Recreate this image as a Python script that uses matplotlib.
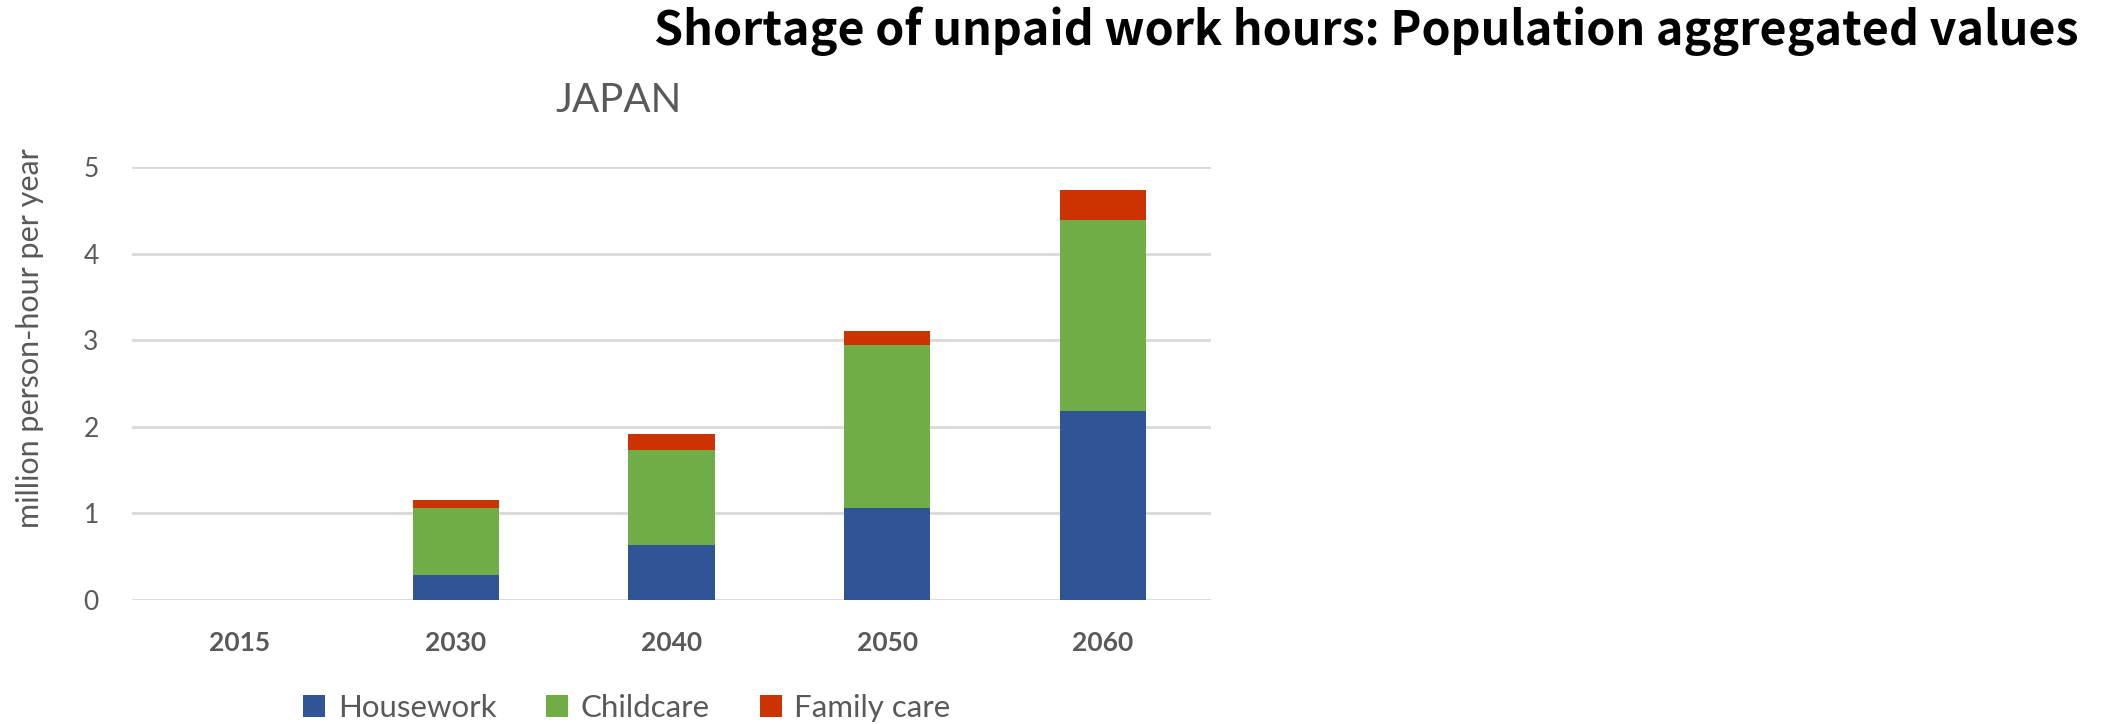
import matplotlib
matplotlib.use("Agg")
import matplotlib.pyplot as plt
import numpy as np

years = ["2015", "2030", "2040", "2050", "2060"]
housework = [0.0, 0.29, 0.64, 1.06, 2.18]
childcare = [0.0, 0.77, 1.09, 1.88, 2.21]
family_care = [0.0, 0.09, 0.19, 0.17, 0.35]

colors = {"Housework": "#2F5597", "Childcare": "#70AD47", "Family care": "#CC3300"}
grey = "#595959"

plt.rcParams["font.family"] = ["Lato", "DejaVu Sans"]

fig = plt.figure(figsize=(21.06, 7.24), dpi=100)
ax = fig.add_axes([132 / 2106, 1 - 600 / 724, (1211 - 132) / 2106, (600 - 167) / 724])

x = np.arange(len(years))
w = 0.4
b1 = ax.bar(x, housework, w, color=colors["Housework"], label="Housework", zorder=3)
bottom = np.array(housework)
b2 = ax.bar(x, childcare, w, bottom=bottom, color=colors["Childcare"], label="Childcare", zorder=3)
bottom = bottom + np.array(childcare)
b3 = ax.bar(x, family_care, w, bottom=bottom, color=colors["Family care"], label="Family care", zorder=3)

ax.set_xlim(-0.5, len(years) - 0.5)
ax.set_ylim(0, 5)
ax.set_yticks(range(6))
ax.yaxis.grid(True, color="#D9D9D9", linewidth=2)
ax.set_axisbelow(True)
for s in ax.spines.values():
    s.set_visible(False)
ax.tick_params(length=0)
ax.tick_params(axis="y", labelsize=19, labelcolor=grey, pad=24)
ax.tick_params(axis="x", labelsize=19, labelcolor=grey, pad=22)
ax.set_xticks(x)
ax.set_xticklabels(years, fontweight="bold")

fig.text(30 / 2106, 1 - 338 / 724, "million person-hour per year", rotation=90,
         ha="center", va="center", fontsize=22, color=grey)
fig.text(619 / 2106, 1 - 101 / 724, "JAPAN", ha="center", va="center",
         fontsize=29, color=grey)
fig.text(2079 / 2106, 1 - 31 / 724, "Shortage of unpaid work hours: Population aggregated values",
         ha="right", va="center", fontsize=33.6, fontweight="bold",
         family=["Noto Sans CJK JP", "DejaVu Sans"], color="black")

fig.legend(handles=[b1, b2, b3], loc="center", bbox_to_anchor=(627 / 2106, 1 - 708 / 724),
           ncol=3, frameon=False, fontsize=22.5, labelcolor=grey,
           handlelength=0.7, handleheight=0.7, columnspacing=1.6, handletextpad=0.4)

fig.savefig("out.png", dpi=100)
